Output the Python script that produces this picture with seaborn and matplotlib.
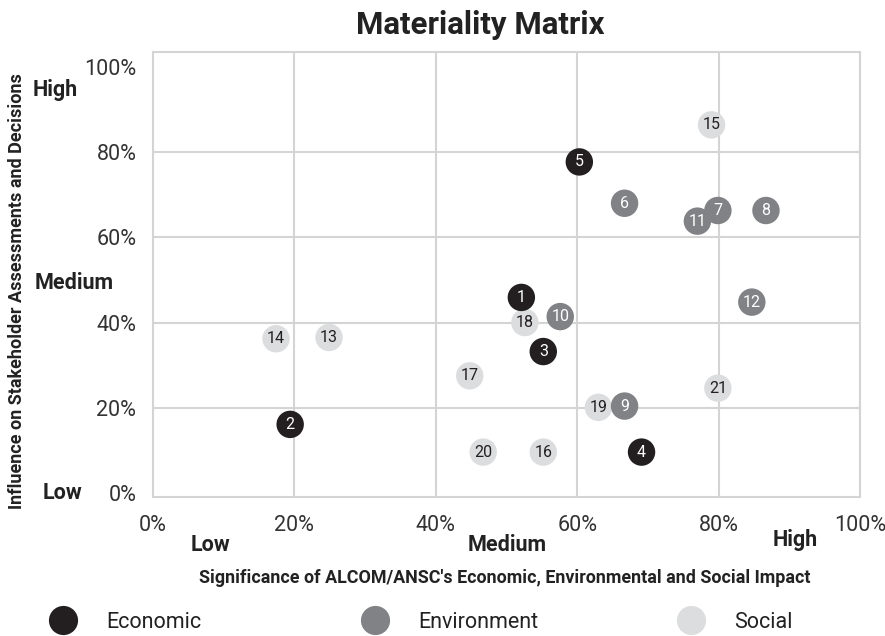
import pandas as pd
import numpy as np
import matplotlib.pyplot as plt
from matplotlib.lines import Line2D
import seaborn as sns

## 자료: 항목 번호, 분류, 중요도(x), 영향도(y)
issue_no = list(range(1, 22))
group = ['Economic'] * 5 + ['Environment'] * 7 + ['Social'] * 9
significance = [52.1, 19.4, 55.2, 69.1, 60.3, 66.7, 79.9, 86.7, 66.7, 57.6, 77.0,
                84.7, 24.9, 17.4, 79.0, 55.2, 44.8, 52.6, 63.0, 46.7, 79.9]
influence = [45.9, 16.1, 33.2, 9.6, 77.7, 68.0, 66.3, 66.3, 20.4, 41.4, 63.8,
             44.8, 36.5, 36.2, 86.4, 9.6, 27.5, 40.0, 20.1, 9.6, 24.6]
group_order = ['Economic', 'Environment', 'Social']
tick_values = [0, 20, 40, 60, 80, 100]
tick_labels = ['0%', '20%', '40%', '60%', '80%', '100%']

colors = {'Economic': '#231f20', 'Environment': '#808285', 'Social': '#dcddde'}
text_colors = {'Economic': 'white', 'Environment': 'white', 'Social': '#231f20'}

df = pd.DataFrame({'No': issue_no, 'Group': group,
                   'Significance': significance, 'Influence': influence})
## 그리는 순서: Social -> Environment -> Economic, 번호 역순
df['rank'] = df.Group.map({'Social': 0, 'Environment': 1, 'Economic': 2})
df = df.sort_values(['rank', 'No'], ascending=[True, False])

sns.set_style('white')
plt.rcParams['font.family'] = ['Roboto', 'DejaVu Sans']
W, H = 885, 636
fig = plt.figure(figsize=(W / 100, H / 100), dpi=100)
ax = fig.add_axes([153 / W, (H - 497) / H, 707 / W, 445 / H])

sns.scatterplot(x='Significance', y='Influence', hue='Group', data=df,
                palette=colors, s=390, linewidth=0, legend=False, ax=ax, zorder=3)
for _, r in df.iterrows():
    ax.text(r.Significance, r.Influence, str(r.No), ha='center', va='center',
            fontsize=11.5, color=text_colors[r.Group], zorder=4)

ax.set_xlim(0, 100)
ax.set_ylim(-0.94, 103.5)
ax.set_xticks(tick_values)
ax.set_xticklabels(tick_labels)
ax.set_yticks(tick_values)
ax.set_yticklabels(tick_labels)
ax.tick_params(axis='both', length=0, labelsize=15.5, labelcolor='#333333')
ax.tick_params(axis='x', pad=13)
ax.tick_params(axis='y', pad=12)
ax.grid(True, color='#d4d4d4', linewidth=1.5)
ax.set_axisbelow(True)
## 0%, 100% 가로 격자선은 테두리와 겹치므로 숨김
ygl = ax.get_ygridlines()
ygl[0].set_visible(False)
ygl[-1].set_visible(False)
for sp in ax.spines.values():
    sp.set_color('#d4d4d4')
    sp.set_linewidth(1.5)
ax.set_xlabel('')
ax.set_ylabel('')

def px(x, y):
    return x / W, 1 - y / H

fig.text(*px(480, 25), 'Materiality Matrix', ha='center', va='center',
         fontsize=22.5, fontweight='bold', color='#222222')
fig.text(*px(505, 578), "Significance of ALCOM/ANSC's Economic, Environmental and Social Impact",
         ha='center', va='center', fontsize=12.9, fontweight='bold', color='#222222')
fig.text(*px(17, 291), 'Influence on Stakeholder Assessments and Decisions',
         ha='center', va='center', rotation=90, fontsize=13, fontweight='bold', color='#222222')

## 축 수준 표시 (Low / Medium / High)
for t, x, y in [('High', 33, 90), ('Medium', 35, 283), ('Low', 43, 493)]:
    fig.text(*px(x, y), t, ha='left', va='center', fontsize=15.5,
             fontweight='bold', color='#222222')
for t, x, y in [('Low', 210, 545), ('Medium', 507, 545), ('High', 795, 540)]:
    fig.text(*px(x, y), t, ha='center', va='center', fontsize=15.5,
             fontweight='bold', color='#222222')

## 범례: 항목별로 따로 배치
for g, x0 in zip(group_order, [48, 360, 676]):
    h = Line2D([], [], marker='o', linestyle='', markersize=21,
               markerfacecolor=colors[g], markeredgewidth=0)
    fig.legend(handles=[h], labels=[g], loc='center left',
               bbox_to_anchor=px(x0, 622), frameon=False, borderpad=0,
               borderaxespad=0, handlelength=1.4, handletextpad=1.3,
               fontsize=15.5, labelcolor='#222222')

fig.savefig('out.png', dpi=100)
